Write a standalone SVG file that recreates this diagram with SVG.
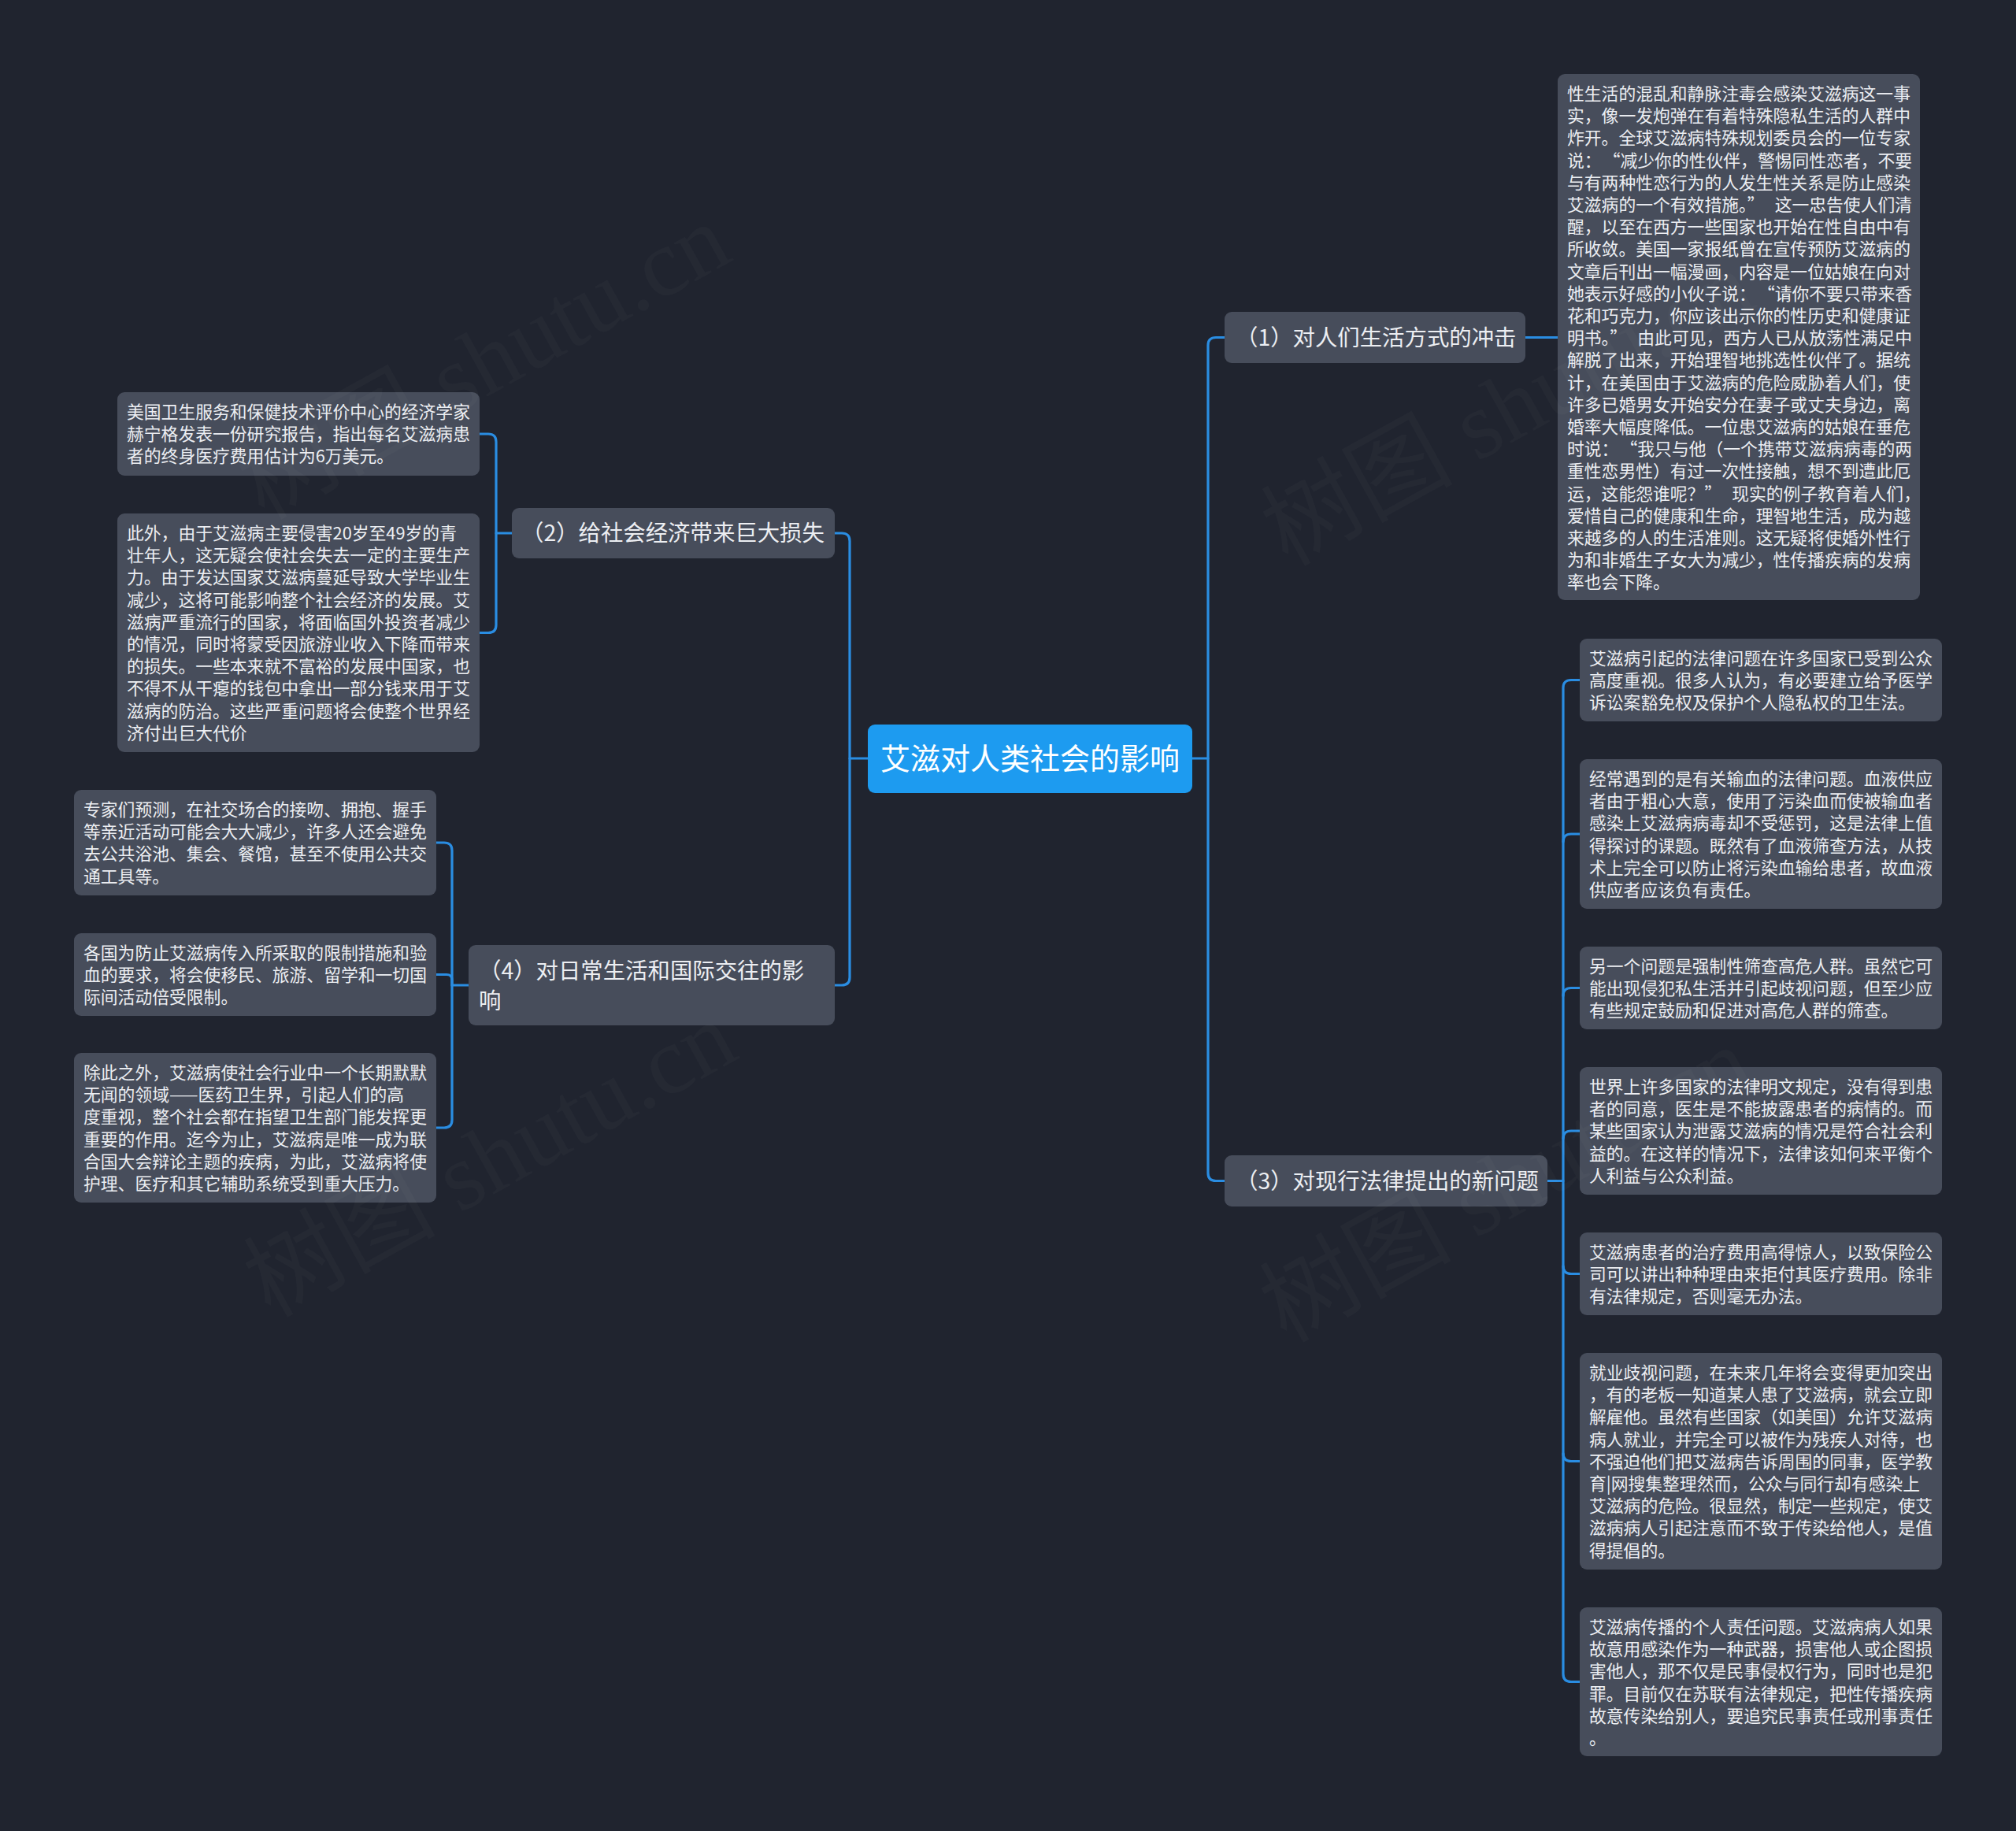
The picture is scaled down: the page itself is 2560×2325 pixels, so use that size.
<svg xmlns="http://www.w3.org/2000/svg" width="2560" height="2325" viewBox="0 0 2560 2325">
<defs>
<style>
.bg{fill:#20242f}
.box{fill:#474d5b}
.txt{font-family:"Noto Sans CJK SC","Noto Sans",sans-serif;font-size:21.8px;fill:#eceef2}
.btxt{font-family:"Noto Sans CJK SC","Noto Sans",sans-serif;font-size:28.4px;fill:#eceef2}
.ctxt{font-family:"Noto Sans CJK SC","Noto Sans",sans-serif;font-size:38px;fill:#ffffff}
.center{fill:#1d9bf0}
.conn{fill:none;stroke:#2a8de2;stroke-width:3.2;stroke-linecap:round;stroke-linejoin:round}
.wm{font-family:"Liberation Serif","Noto Sans CJK SC",serif;font-size:122px;fill:#ffffff;fill-opacity:0.025}
</style>
</defs>
<rect class="bg" x="0" y="0" width="2560" height="2325"/>

<g id="connectors">
<path class="conn" d="M1514,963 H1534 V438.5 Q1534,428.5 1544,428.5 H1555"/>
<path class="conn" d="M1534,963 V1489.5 Q1534,1499.5 1544,1499.5 H1555"/>
<path class="conn" d="M1102,963 H1079 V687 Q1079,677 1069,677 H1060"/>
<path class="conn" d="M1079,963 V1241 Q1079,1251 1069,1251 H1060"/>
<path class="conn" d="M1937,428.5 H1978"/>
<path class="conn" d="M650,677 H630 V561 Q630,551 620,551 H609"/>
<path class="conn" d="M630,677 V793.5 Q630,803.5 620,803.5 H609"/>
<path class="conn" d="M595,1251 H574 V1080 Q574,1070 564,1070 H554"/>
<path class="conn" d="M574,1251 V1244.5 Q574,1237.5 567,1237.5 H554"/>
<path class="conn" d="M574,1251 V1422 Q574,1432 564,1432 H554"/>
<path class="conn" d="M1965,1499.5 H1985 V873.5 Q1985,863.5 1995,863.5 H2006"/>
<path class="conn" d="M1985,1069 Q1985,1059 1995,1059 H2006"/>
<path class="conn" d="M1985,1264.5 Q1985,1254.5 1995,1254.5 H2006"/>
<path class="conn" d="M1985,1446 Q1985,1436 1995,1436 H2006"/>
<path class="conn" d="M1985,1499.5 V2125.5 Q1985,2135.5 1995,2135.5 H2006"/>
<path class="conn" d="M1985,1607.5 Q1985,1617.5 1995,1617.5 H2006"/>
<path class="conn" d="M1985,1845.5 Q1985,1855.5 1995,1855.5 H2006"/>
</g>

<g id="root">
<rect class="center" x="1102" y="920" width="412" height="87" rx="9"/>
<text class="ctxt" x="1308" y="976.5" text-anchor="middle">艾滋对人类社会的影响</text>
</g>

<g id="branch1">
<rect class="box" x="1555" y="396" width="382" height="65" rx="9"/>
<text class="btxt" x="1569" y="438.5">（1）对人们生活方式的冲击</text>
</g>

<g id="branch2">
<rect class="box" x="650" y="645" width="410" height="64" rx="9"/>
<text class="btxt" x="662" y="687">（2）给社会经济带来巨大损失</text>
</g>

<g id="branch3">
<rect class="box" x="1555" y="1467" width="410" height="65" rx="9"/>
<text class="btxt" x="1569" y="1510">（3）对现行法律提出的新问题</text>
</g>

<g id="branch4">
<rect class="box" x="595" y="1200" width="465" height="102" rx="9"/>
<text class="btxt" x="608" y="1242.5">（4）对日常生活和国际交往的影<tspan x="608" dy="38.5">响</tspan></text>
</g>

<g id="b1-detail">
<rect class="box" x="1978" y="94" width="460" height="668" rx="9"/>
<text class="txt" x="1990" y="127"><tspan x="1990">性生活的混乱和静脉注毒会感染艾滋病这一事</tspan><tspan x="1990" dy="28.2">实，像一发炮弹在有着特殊隐私生活的人群中</tspan><tspan x="1990" dy="28.2">炸开。全球艾滋病特殊规划委员会的一位专家</tspan><tspan x="1990" dy="28.2">说：<tspan dx="13">“</tspan>减少你的性伙伴，警惕同性恋者，不要</tspan><tspan x="1990" dy="28.2">与有两种性恋行为的人发生性关系是防止感染</tspan><tspan x="1990" dy="28.2">艾滋病的一个有效措施。”<tspan dx="13">这一忠告使人们清</tspan></tspan><tspan x="1990" dy="28.2">醒，以至在西方一些国家也开始在性自由中有</tspan><tspan x="1990" dy="28.2">所收敛。美国一家报纸曾在宣传预防艾滋病的</tspan><tspan x="1990" dy="28.2">文章后刊出一幅漫画，内容是一位姑娘在向对</tspan><tspan x="1990" dy="28.2">她表示好感的小伙子说：<tspan dx="13">“</tspan>请你不要只带来香</tspan><tspan x="1990" dy="28.2">花和巧克力，你应该出示你的性历史和健康证</tspan><tspan x="1990" dy="28.2">明书。”<tspan dx="13">由此可见，西方人已从放荡性满足中</tspan></tspan><tspan x="1990" dy="28.2">解脱了出来，开始理智地挑选性伙伴了。据统</tspan><tspan x="1990" dy="28.2">计，在美国由于艾滋病的危险威胁着人们，使</tspan><tspan x="1990" dy="28.2">许多已婚男女开始安分在妻子或丈夫身边，离</tspan><tspan x="1990" dy="28.2">婚率大幅度降低。一位患艾滋病的姑娘在垂危</tspan><tspan x="1990" dy="28.2">时说：<tspan dx="13">“</tspan>我只与他（一个携带艾滋病病毒的两</tspan><tspan x="1990" dy="28.2">重性恋男性）有过一次性接触，想不到遭此厄</tspan><tspan x="1990" dy="28.2">运，这能怨谁呢？”<tspan dx="13">现实的例子教育着人们，</tspan></tspan><tspan x="1990" dy="28.2">爱惜自己的健康和生命，理智地生活，成为越</tspan><tspan x="1990" dy="28.2">来越多的人的生活准则。这无疑将使婚外性行</tspan><tspan x="1990" dy="28.2">为和非婚生子女大为减少，性传播疾病的发病</tspan><tspan x="1990" dy="28.2">率也会下降。</tspan></text>
</g>

<g id="b2-detail1">
<rect class="box" x="149" y="498" width="460" height="106" rx="9"/>
<text class="txt" x="161" y="531"><tspan x="161">美国卫生服务和保健技术评价中心的经济学家</tspan><tspan x="161" dy="28.2">赫宁格发表一份研究报告，指出每名艾滋病患</tspan><tspan x="161" dy="28.2">者的终身医疗费用估计为6万美元。</tspan></text>
</g>

<g id="b2-detail2">
<rect class="box" x="149" y="652" width="460" height="303" rx="9"/>
<text class="txt" x="161" y="685"><tspan x="161">此外，由于艾滋病主要侵害20岁至49岁的青</tspan><tspan x="161" dy="28.2">壮年人，这无疑会使社会失去一定的主要生产</tspan><tspan x="161" dy="28.2">力。由于发达国家艾滋病蔓延导致大学毕业生</tspan><tspan x="161" dy="28.2">减少，这将可能影响整个社会经济的发展。艾</tspan><tspan x="161" dy="28.2">滋病严重流行的国家，将面临国外投资者减少</tspan><tspan x="161" dy="28.2">的情况，同时将蒙受因旅游业收入下降而带来</tspan><tspan x="161" dy="28.2">的损失。一些本来就不富裕的发展中国家，也</tspan><tspan x="161" dy="28.2">不得不从干瘪的钱包中拿出一部分钱来用于艾</tspan><tspan x="161" dy="28.2">滋病的防治。这些严重问题将会使整个世界经</tspan><tspan x="161" dy="28.2">济付出巨大代价</tspan></text>
</g>

<g id="b4-detail1">
<rect class="box" x="94" y="1003" width="460" height="134" rx="9"/>
<text class="txt" x="106" y="1036"><tspan x="106">专家们预测，在社交场合的接吻、拥抱、握手</tspan><tspan x="106" dy="28.2">等亲近活动可能会大大减少，许多人还会避免</tspan><tspan x="106" dy="28.2">去公共浴池、集会、餐馆，甚至不使用公共交</tspan><tspan x="106" dy="28.2">通工具等。</tspan></text>
</g>

<g id="b4-detail2">
<rect class="box" x="94" y="1185" width="460" height="105" rx="9"/>
<text class="txt" x="106" y="1218"><tspan x="106">各国为防止艾滋病传入所采取的限制措施和验</tspan><tspan x="106" dy="28.2">血的要求，将会使移民、旅游、留学和一切国</tspan><tspan x="106" dy="28.2">际间活动倍受限制。</tspan></text>
</g>

<g id="b4-detail3">
<rect class="box" x="94" y="1337" width="460" height="190" rx="9"/>
<text class="txt" x="106" y="1370"><tspan x="106">除此之外，艾滋病使社会行业中一个长期默默</tspan><tspan x="106" dy="28.2">无闻的领域——医药卫生界，引起人们的高</tspan><tspan x="106" dy="28.2">度重视，整个社会都在指望卫生部门能发挥更</tspan><tspan x="106" dy="28.2">重要的作用。迄今为止，艾滋病是唯一成为联</tspan><tspan x="106" dy="28.2">合国大会辩论主题的疾病，为此，艾滋病将使</tspan><tspan x="106" dy="28.2">护理、医疗和其它辅助系统受到重大压力。</tspan></text>
</g>

<g id="b3-detail1">
<rect class="box" x="2006" y="811" width="460" height="105" rx="9"/>
<text class="txt" x="2018" y="844"><tspan x="2018">艾滋病引起的法律问题在许多国家已受到公众</tspan><tspan x="2018" dy="28.2">高度重视。很多人认为，有必要建立给予医学</tspan><tspan x="2018" dy="28.2">诉讼案豁免权及保护个人隐私权的卫生法。</tspan></text>
</g>

<g id="b3-detail2">
<rect class="box" x="2006" y="964" width="460" height="190" rx="9"/>
<text class="txt" x="2018" y="997"><tspan x="2018">经常遇到的是有关输血的法律问题。血液供应</tspan><tspan x="2018" dy="28.2">者由于粗心大意，使用了污染血而使被输血者</tspan><tspan x="2018" dy="28.2">感染上艾滋病病毒却不受惩罚，这是法律上值</tspan><tspan x="2018" dy="28.2">得探讨的课题。既然有了血液筛查方法，从技</tspan><tspan x="2018" dy="28.2">术上完全可以防止将污染血输给患者，故血液</tspan><tspan x="2018" dy="28.2">供应者应该负有责任。</tspan></text>
</g>

<g id="b3-detail3">
<rect class="box" x="2006" y="1202" width="460" height="105" rx="9"/>
<text class="txt" x="2018" y="1235"><tspan x="2018">另一个问题是强制性筛查高危人群。虽然它可</tspan><tspan x="2018" dy="28.2">能出现侵犯私生活并引起歧视问题，但至少应</tspan><tspan x="2018" dy="28.2">有些规定鼓励和促进对高危人群的筛查。</tspan></text>
</g>

<g id="b3-detail4">
<rect class="box" x="2006" y="1355" width="460" height="162" rx="9"/>
<text class="txt" x="2018" y="1388"><tspan x="2018">世界上许多国家的法律明文规定，没有得到患</tspan><tspan x="2018" dy="28.2">者的同意，医生是不能披露患者的病情的。而</tspan><tspan x="2018" dy="28.2">某些国家认为泄露艾滋病的情况是符合社会利</tspan><tspan x="2018" dy="28.2">益的。在这样的情况下，法律该如何来平衡个</tspan><tspan x="2018" dy="28.2">人利益与公众利益。</tspan></text>
</g>

<g id="b3-detail5">
<rect class="box" x="2006" y="1565" width="460" height="105" rx="9"/>
<text class="txt" x="2018" y="1598"><tspan x="2018">艾滋病患者的治疗费用高得惊人，以致保险公</tspan><tspan x="2018" dy="28.2">司可以讲出种种理由来拒付其医疗费用。除非</tspan><tspan x="2018" dy="28.2">有法律规定，否则毫无办法。</tspan></text>
</g>

<g id="b3-detail6">
<rect class="box" x="2006" y="1718" width="460" height="275" rx="9"/>
<text class="txt" x="2018" y="1751"><tspan x="2018">就业歧视问题，在未来几年将会变得更加突出</tspan><tspan x="2018" dy="28.2">，有的老板一知道某人患了艾滋病，就会立即</tspan><tspan x="2018" dy="28.2">解雇他。虽然有些国家（如美国）允许艾滋病</tspan><tspan x="2018" dy="28.2">病人就业，并完全可以被作为残疾人对待，也</tspan><tspan x="2018" dy="28.2">不强迫他们把艾滋病告诉周围的同事，医学教</tspan><tspan x="2018" dy="28.2">育|网搜集整理然而，公众与同行却有感染上</tspan><tspan x="2018" dy="28.2">艾滋病的危险。很显然，制定一些规定，使艾</tspan><tspan x="2018" dy="28.2">滋病病人引起注意而不致于传染给他人，是值</tspan><tspan x="2018" dy="28.2">得提倡的。</tspan></text>
</g>

<g id="b3-detail7">
<rect class="box" x="2006" y="2041" width="460" height="189" rx="9"/>
<text class="txt" x="2018" y="2074"><tspan x="2018">艾滋病传播的个人责任问题。艾滋病病人如果</tspan><tspan x="2018" dy="28.2">故意用感染作为一种武器，损害他人或企图损</tspan><tspan x="2018" dy="28.2">害他人，那不仅是民事侵权行为，同时也是犯</tspan><tspan x="2018" dy="28.2">罪。目前仅在苏联有法律规定，把性传播疾病</tspan><tspan x="2018" dy="28.2">故意传染给别人，要追究民事责任或刑事责任</tspan><tspan x="2018" dy="28.2">。</tspan></text>
</g>

<g id="watermark">
<text class="wm" transform="translate(335,661) rotate(-29)">树图 shutu.cn</text>
<text class="wm" transform="translate(343,1674) rotate(-29)">树图 shutu.cn</text>
<text class="wm" transform="translate(1635,720) rotate(-29)">树图 shutu.cn</text>
<text class="wm" transform="translate(1633,1706) rotate(-29)">树图 shutu.cn</text>
</g>
</svg>
